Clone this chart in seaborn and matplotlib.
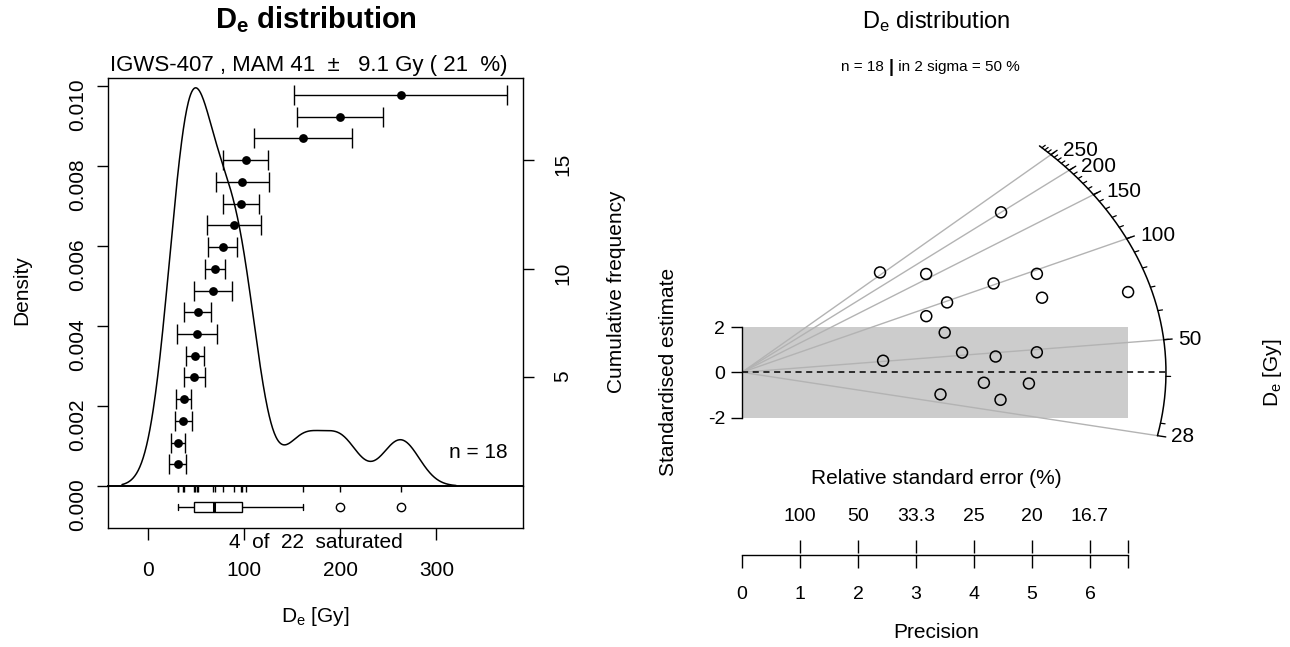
import numpy as np
import pandas as pd
import matplotlib
matplotlib.use("Agg")
import matplotlib.pyplot as plt
import seaborn as sns

# ---------------- data ----------------
de_values = [30.8, 31.2, 36.7, 37.1, 48.1, 48.8, 50.6, 51.6, 67.8, 69.9,
             77.6, 89.6, 96.6, 98.3, 101.5, 161.3, 200.1, 262.7]
de_errors = [9.0, 7.0, 8.8, 7.5, 11.0, 9.6, 20.8, 13.6, 19.4, 10.5,
             15.0, 28.2, 19.0, 27.8, 23.4, 50.8, 44.8, 110.4]
sample_name = "IGWS-407"
mam_value = 41
mam_error = 9.1
mam_rel_pct = 21
n_aliquots_total = 22
n_saturated = 4
density_ticks = [0.000, 0.002, 0.004, 0.006, 0.008, 0.010]
density_max = 0.0102
kde_bw_adjust = 1.03
cumfreq_ticks = [5, 10, 15]
kde_xticks = [0, 100, 200, 300]
radial_major = [50, 100, 150, 200, 250]
radial_minor_step = 10
precision_ticks = [0, 1, 2, 3, 4, 5, 6]
stdest_ticks = [-2, 0, 2]

# ---------------- style ----------------
sns.set_theme(style="white")
plt.rcParams["font.family"] = ["Liberation Sans", "DejaVu Sans"]
plt.rcParams["mathtext.fontset"] = "custom"
plt.rcParams["mathtext.rm"] = "Liberation Sans"
plt.rcParams["mathtext.it"] = "Liberation Sans:italic"
plt.rcParams["mathtext.bf"] = "Liberation Sans:bold"
for k in ["axes.edgecolor", "text.color", "axes.labelcolor", "xtick.color", "ytick.color"]:
    plt.rcParams[k] = "black"
plt.rcParams["axes.linewidth"] = 1.0

W, H = 1290, 647
fig = plt.figure(figsize=(W / 100, H / 100), dpi=100)


def rect(x0, y0, x1, y1):
    return [x0 / W, 1 - y1 / H, (x1 - x0) / W, (y1 - y0) / H]


def fx(x):
    return x / W


def fy(y):
    return 1 - y / H


df = pd.DataFrame({"De": de_values, "err": de_errors}).sort_values("De").reset_index(drop=True)
df["rank"] = np.arange(1, len(df) + 1)
n = len(df)

# ================= left panel: KDE =================
ax_kde = fig.add_axes(rect(108, 78, 523, 486))
ax_box = fig.add_axes(rect(108, 486, 523, 528), sharex=ax_kde)
ax_box.patch.set_visible(False)

x = df["De"].to_numpy()
sd = x.std(ddof=1)
q75, q25 = np.percentile(x, [75, 25])
bw = 0.9 * min(sd, (q75 - q25) / 1.34) * n ** -0.2
sns.kdeplot(x=x, ax=ax_kde, bw_method=bw / sd, bw_adjust=kde_bw_adjust, cut=3,
            gridsize=600, color="black", linewidth=1.1)
ax_kde.set_ylim(0, density_max)

sns.rugplot(x=x, ax=ax_kde, height=-0.014, clip_on=False, color="black",
            linewidth=1.0, expand_margins=False)

ax_kde.set_yticks(density_ticks, labels=[f"{t:.3f}" for t in density_ticks])
ax_kde.tick_params(axis="y", left=True, direction="out", length=8, width=1,
                   labelsize=15, pad=7, labelrotation=90)
ax_kde.tick_params(axis="x", bottom=False, labelbottom=False)
ax_kde.set_xlabel("")
ax_kde.set_ylabel("")
for s in ["top", "left", "right", "bottom"]:
    ax_kde.spines[s].set_visible(True)
ax_kde.spines["bottom"].set_linewidth(1.4)

# cumulative frequency + error bars
ax_cum = ax_kde.twinx()
ax_cum.set_ylim(0, n * 408 / 391)
ax_cum.errorbar(df["De"], df["rank"], xerr=df["err"], fmt="none", ecolor="black",
                elinewidth=1.0, capsize=7, capthick=1.0, zorder=2)
sns.scatterplot(data=df, x="De", y="rank", ax=ax_cum, color="black", s=40,
                edgecolor="black", linewidth=0, zorder=3)
for s in ax_cum.spines.values():
    s.set_visible(False)
ax_cum.set_yticks(cumfreq_ticks, labels=[str(t) for t in cumfreq_ticks])
ax_cum.tick_params(axis="y", right=True, direction="out", length=8, width=1,
                   labelsize=15, pad=14, labelrotation=90)
ax_cum.set_xlabel("")
ax_cum.set_ylabel("")

# boxplot strip
sns.boxplot(x=x, ax=ax_box, orient="h", width=0.25, color="white",
            linecolor="black", linewidth=1.0, whis=1.5, fliersize=6,
            flierprops=dict(marker="o", markerfacecolor="none",
                            markeredgecolor="black", markeredgewidth=1.0),
            medianprops=dict(linewidth=2.2, color="black"))
ax_box.set_ylim(0.5, -0.5)
ax_box.set_yticks([])
ax_box.spines["top"].set_visible(False)
for s in ["left", "right", "bottom"]:
    ax_box.spines[s].set_visible(True)
ax_box.set_xticks(kde_xticks, labels=[str(t) for t in kde_xticks])
ax_box.tick_params(axis="x", bottom=True, direction="out", length=8.5, width=1,
                   labelsize=15, pad=15)
ax_box.set_xlabel("")
ax_kde.set_xlim(-41.5, 390)

fig.text(fx(315.5), fy(20), r"$\mathbf{D}_{\mathbf{e}}$ distribution", ha="center",
         va="center", fontsize=21, fontweight="bold")
fig.text(fx(309), fy(66),
         f"{sample_name} , MAM {mam_value}  \u00b1   {mam_error} Gy ( {mam_rel_pct}  %)",
         ha="center", va="center", fontsize=16)
fig.text(fx(478), fy(452), f"n = {n}", ha="center", va="center", fontsize=15)
fig.text(fx(315.5), fy(542), f"{n_saturated}  of  {n_aliquots_total}  saturated",
         ha="center", va="center", fontsize=15)
fig.text(fx(315.5), fy(617), r"D$_\mathrm{e}$ [Gy]", ha="center", va="center", fontsize=15)
fig.text(fx(22), fy(290), "Density", ha="center", va="center", rotation=90, fontsize=15)
fig.text(fx(617), fy(292), "Cumulative frequency", ha="center", va="center",
         rotation=90, fontsize=15)

# ================= right panel: radial plot =================
ppx, ppy = 58.0, 22.6
ax_rad = fig.add_axes(rect(742, 120, 1230, 440))
ax_rad.patch.set_visible(False)
ax_rad.set_xlim(0, (1230 - 742) / ppx)
ax_rad.set_ylim(-(440 - 372.3) / ppy, (372.3 - 120) / ppy)

z0 = np.log(mam_value)
df["prec"] = df["De"] / df["err"]
df["std_est"] = (np.log(df["De"]) - z0) * df["prec"]
pmax = df["prec"].max()
in2 = 100 * np.mean(np.abs(df["std_est"]) <= 2)

ell_r, ell_f = 7.31, 0.52
lo_lim, hi_lim = 0.9 * df["De"].min(), 1.1 * df["De"].max()


def ellipse_xy(v):
    s = np.log(v) - z0
    xx = ell_r / np.sqrt(1 + ell_f ** 2 * s ** 2)
    return xx, s * xx


ax_rad.fill_between([0, pmax], -2, 2, color="#CCCCCC", linewidth=0, zorder=0)

major_vals = [lo_lim] + radial_major
for v in major_vals:
    ex, ey = ellipse_xy(v)
    sns.lineplot(x=[0, ex], y=[0, ey], ax=ax_rad, color="#B3B3B3", linewidth=1.0,
                 sort=False, estimator=None, zorder=1)

sns.lineplot(x=[0, ell_r], y=[0, 0], ax=ax_rad, color="black", linewidth=1.1,
             sort=False, estimator=None, zorder=2)
ax_rad.lines[-1].set_dashes((4, 3))

zeta = np.linspace(np.log(lo_lim), np.log(hi_lim), 400)
arc_x, arc_y = ellipse_xy(np.exp(zeta))
sns.lineplot(x=arc_x, y=arc_y, ax=ax_rad, color="black", linewidth=1.1,
             sort=False, estimator=None, zorder=2)

minor_vals = np.arange(30, hi_lim + 1e-9, radial_minor_step)
for v in minor_vals:
    ex, ey = ellipse_xy(v)
    ax_rad.plot([ex, ex * 1.011], [ey, ey * 1.011], color="black", linewidth=0.9)
for v in major_vals:
    ex, ey = ellipse_xy(v)
    ax_rad.plot([ex, ex * 1.02], [ey, ey * 1.02], color="black", linewidth=1.0)
    ax_rad.annotate(f"{v:.0f}", (ex * 1.02, ey * 1.02), xytext=(4, 0),
                    textcoords="offset points", ha="left", va="center", fontsize=15)

sns.scatterplot(data=df, x="prec", y="std_est", ax=ax_rad, marker="o", s=62,
                facecolor="none", edgecolor="black", linewidth=1.1, zorder=4)
ax_rad.set_xlabel("")
ax_rad.set_ylabel("")
ax_rad.set_xticks([])
ax_rad.set_yticks(stdest_ticks, labels=[str(t) for t in stdest_ticks])
ax_rad.tick_params(axis="y", left=True, direction="out", length=8, width=1,
                   labelsize=14, pad=4)
for s in ["top", "right", "bottom"]:
    ax_rad.spines[s].set_visible(False)
ax_rad.spines["left"].set_bounds(-2, 2)

# precision / relative error axis
ax_prec = fig.add_axes(rect(742, 553.5, 1230, 554.5))
ax_prec.patch.set_visible(False)
ax_prec.set_xlim(ax_rad.get_xlim())
ax_prec.set_ylim(0, 1)
for s in ["left", "right", "top"]:
    ax_prec.spines[s].set_visible(False)
ax_prec.spines["bottom"].set_bounds(0, pmax)
ax_prec.set_yticks([])
ax_prec.set_xticks(precision_ticks + [pmax],
                   labels=[str(t) for t in precision_ticks] + [""])
ax_prec.tick_params(axis="x", bottom=True, direction="out", length=9.4, width=1,
                    labelsize=14, pad=13)
sec = ax_prec.secondary_xaxis("top")
sec.set_xticks(precision_ticks[1:] + [pmax],
               labels=[f"{100 / p:.3g}" for p in precision_ticks[1:]] + [""])
sec.tick_params(axis="x", top=True, direction="out", length=9.4, width=1,
                labelsize=14, pad=11)
sec.spines["top"].set_visible(False)

fig.text(fx(936), fy(22), r"D$_\mathrm{e}$ distribution", ha="center", va="center", fontsize=17)
fig.text(fx(888), fy(67), f"n = {n} ", ha="right", va="center", fontsize=11)
fig.text(fx(891), fy(67), "|", ha="center", va="center", fontsize=13, fontweight="bold")
fig.text(fx(894), fy(67), f" in 2 sigma = {in2:.0f} %", ha="left", va="center", fontsize=11)
fig.text(fx(668), fy(372), "Standardised estimate", ha="center", va="center",
         rotation=90, fontsize=15)
fig.text(fx(1273), fy(373), r"D$_\mathrm{e}$ [Gy]", ha="center", va="center",
         rotation=90, fontsize=15)
fig.text(fx(936.5), fy(479), "Relative standard error (%)", ha="center", va="center",
         fontsize=15)
fig.text(fx(936), fy(633), "Precision", ha="center", va="center", fontsize=15)

fig.savefig("out.png", dpi=100)
